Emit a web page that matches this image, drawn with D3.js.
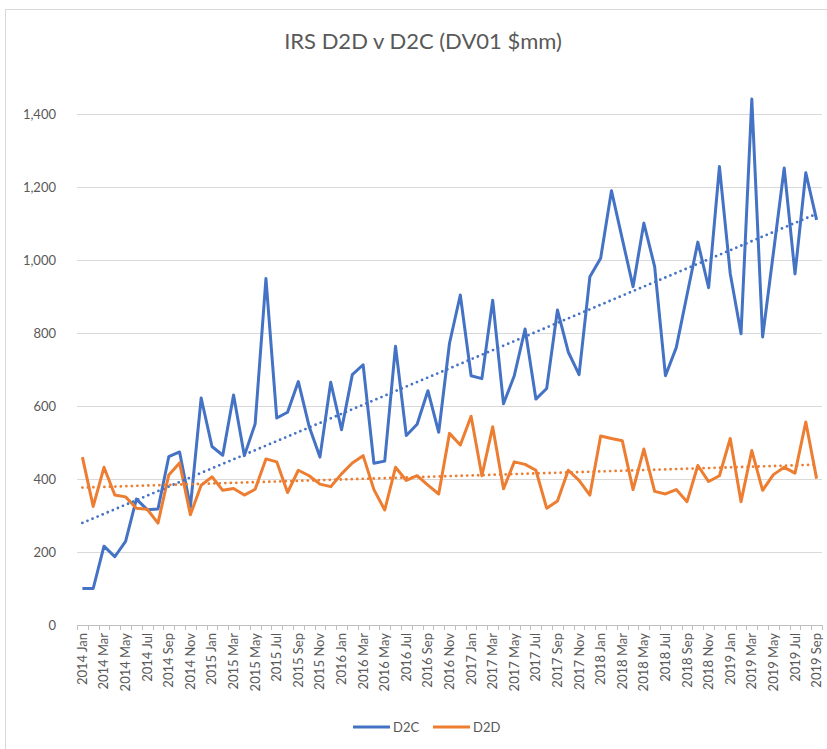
<!DOCTYPE html>
<html>
<head>
<meta charset="utf-8">
<script src="https://cdn.jsdelivr.net/npm/d3@7/dist/d3.min.js"></script>
<style>
  body { margin: 0; background: #fff; }
  text { font-family: Lato, "Open Sans", sans-serif; fill: #595959; }
</style>
</head>
<body>
<div id="vis"></div>
<script>
var width  = 827;
var height = 749;

// monthly categories 2014 Jan .. 2019 Sep
var years  = [2014, 2015, 2016, 2017, 2018, 2019];
var months = ["Jan","Feb","Mar","Apr","May","Jun","Jul","Aug","Sep","Oct","Nov","Dec"];
var categories = [];
years.forEach(function(y) {
  months.forEach(function(m) {
    if (categories.length < 69) categories.push(y + " " + m);
  });
});

var d2c = [100, 100, 216, 187, 229, 345, 316, 318, 461, 474, 323, 622,
           489, 465, 630, 464, 551, 949, 567, 583, 667, 544, 460, 665,
           535, 686, 713, 443, 449, 764, 519, 550, 642, 528, 772, 904,
           683, 675, 890, 606, 683, 811, 619, 648, 863, 748, 686, 954,
           1005, 1190, 1058, 927, 1101, 982, 683, 760, 905, 1049, 924, 1256,
           963, 798, 1441, 789, 1020, 1252, 962, 1239, 1110];

var d2d = [460, 325, 432, 356, 351, 320, 317, 279, 411, 444, 302, 383,
           406, 369, 374, 356, 372, 455, 447, 363, 424, 409, 386, 379,
           414, 444, 464, 371, 315, 432, 396, 409, 383, 359, 525, 493,
           572, 409, 543, 373, 447, 440, 424, 320, 340, 424, 396, 356,
           518, 511, 505, 371, 482, 366, 359, 371, 338, 437, 393, 409,
           511, 338, 478, 369, 412, 432, 416, 556, 401];

var yTicks = [0, 200, 400, 600, 800, 1000, 1200, 1400];

var seriesNames  = ["D2C", "D2D"];
var seriesColors = ["#4472C4", "#ED7D31"];
var seriesData   = [d2c, d2d];

var svg = d3.select("#vis").append("svg")
  .attr("width", width)
  .attr("height", height);

// chart border (only left/top visible in the crop)
svg.append("path")
  .attr("d", "M5.5,749V9.5H827")
  .attr("fill", "none")
  .attr("stroke", "#d9d9d9");

svg.append("text")
  .attr("x", 423)
  .attr("y", 49)
  .attr("text-anchor", "middle")
  .style("font-size", "22px")
  .text("IRS D2D v D2C (DV01 $mm)");

var x = d3.scalePoint().domain(d3.range(categories.length)).range([77, 822]).padding(0.5);
var y = d3.scaleLinear().domain([0, 1400]).range([625, 114]);

// gridlines
svg.append("g").selectAll("line")
  .data(yTicks.slice(1))
  .enter().append("line")
  .attr("x1", 77).attr("x2", 822)
  .attr("y1", function(d) { return Math.round(y(d)) + 0.5; })
  .attr("y2", function(d) { return Math.round(y(d)) + 0.5; })
  .attr("stroke", "#d9d9d9");

// y labels
svg.append("g").selectAll("text")
  .data(yTicks)
  .enter().append("text")
  .attr("x", 56)
  .attr("y", function(d) { return y(d) + 4.5; })
  .attr("text-anchor", "end")
  .style("font-size", "13px")
  .text(d3.format(","));

// x axis line + ticks
var step = x.step();
var gx = svg.append("g");
gx.append("line")
  .attr("x1", 77).attr("x2", 822)
  .attr("y1", 625.5).attr("y2", 625.5)
  .attr("stroke", "#bfbfbf");
gx.selectAll(".tk")
  .data(d3.range(categories.length + 1))
  .enter().append("line")
  .attr("class", "tk")
  .attr("x1", function(i) { return Math.round(77 + i * step) + 0.5; })
  .attr("x2", function(i) { return Math.round(77 + i * step) + 0.5; })
  .attr("y1", 625).attr("y2", 630)
  .attr("stroke", "#bfbfbf");

gx.selectAll("text")
  .data(d3.range(0, categories.length, 2))
  .enter().append("text")
  .attr("transform", function(i) { return "translate(" + (x(i) + 4.5) + ",633)rotate(-90)"; })
  .attr("text-anchor", "end")
  .style("font-size", "13px")
  .text(function(i) { return categories[i]; });

// series lines
var line = d3.line()
  .x(function(d, i) { return x(i); })
  .y(function(d) { return y(d); });

seriesData.forEach(function(data, k) {
  svg.append("path")
    .datum(data)
    .attr("d", line)
    .attr("fill", "none")
    .attr("stroke", seriesColors[k])
    .attr("stroke-width", 3)
    .attr("stroke-linejoin", "round");
});

// linear trendlines (least squares)
function trend(data) {
  var n = data.length;
  var mx = d3.mean(d3.range(n));
  var my = d3.mean(data);
  var sxy = 0, sxx = 0;
  data.forEach(function(v, i) { sxy += (i - mx) * (v - my); sxx += (i - mx) * (i - mx); });
  var b = sxy / sxx, a = my - b * mx;
  return [[0, a], [n - 1, a + b * (n - 1)]];
}

seriesData.forEach(function(data, k) {
  var t = trend(data);
  svg.append("line")
    .attr("x1", x(t[0][0])).attr("y1", y(t[0][1]))
    .attr("x2", x(t[1][0])).attr("y2", y(t[1][1]))
    .attr("stroke", seriesColors[k])
    .attr("stroke-width", 2.8)
    .attr("stroke-dasharray", "0,5.5")
    .attr("stroke-linecap", "round");
});

// legend
var legendX = [353, 433];
seriesNames.forEach(function(name, k) {
  var g = svg.append("g").attr("transform", "translate(" + legendX[k] + ",727)");
  g.append("line")
    .attr("x1", 0).attr("x2", 37)
    .attr("stroke", seriesColors[k])
    .attr("stroke-width", 3);
  g.append("text")
    .attr("x", 40)
    .attr("y", 4.5)
    .style("font-size", "13px")
    .text(name);
});
</script>
</body>
</html>
